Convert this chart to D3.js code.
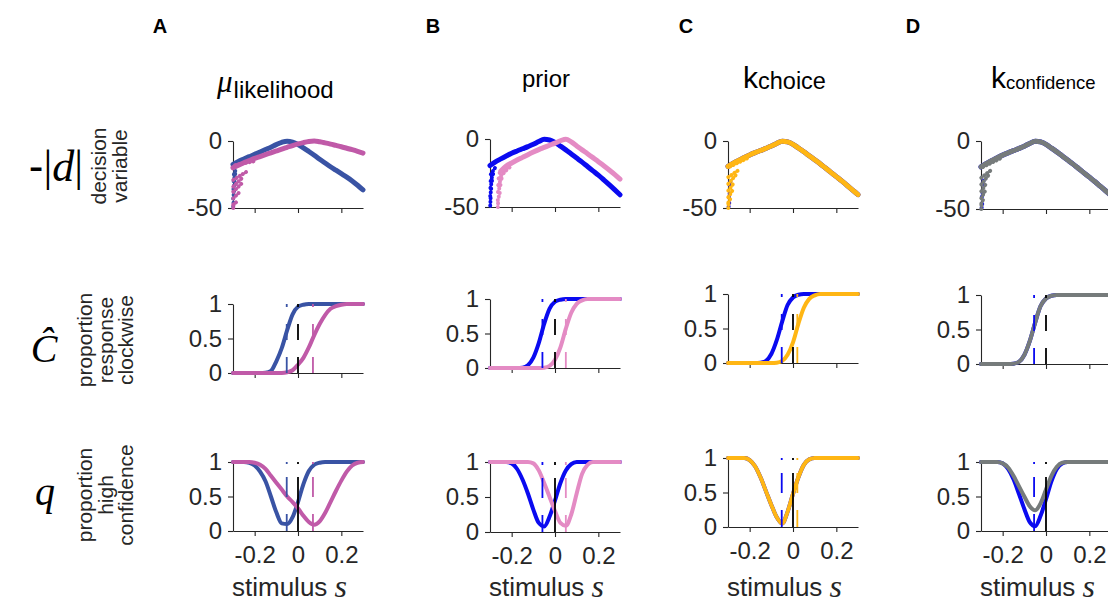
<!DOCTYPE html>
<html><head><meta charset="utf-8">
<script src="https://cdn.jsdelivr.net/npm/d3@7"></script>
<style>
body{margin:0;background:#fff;}
svg{display:block;}
</style></head><body>
<svg id="chart" width="1108" height="606"></svg>
<script>
// ---------------- DATA ----------------
const sGrid = [-0.3,-0.275,-0.25,-0.225,-0.2,-0.175,-0.15,-0.125,-0.1,-0.075,-0.05,-0.025,0,0.025,0.05,0.075,0.1,0.125,0.15,0.175,0.2,0.225,0.25,0.275,0.3];
const xTicks = [-0.2, 0, 0.2];
const xTickLabels = ["-0.2", "0", "0.2"];
const dvTicks = [-50, 0];
const dvTickLabels = ["-50", "0"];
const pTicks = [0, 0.5, 1];
const pTickLabels = ["0", "0.5", "1"];
const panelLetters = ["A", "B", "C", "D"];

// decision variable -|d|
const dvA_blue = [-17.5,-15.2,-13.4,-11.7,-10,-8.2,-6.4,-4.6,-2.7,-1,-0.1,-0.8,-2.6,-5.1,-7.8,-10.6,-13.6,-16.4,-19.2,-21.8,-24.4,-27,-29.8,-33,-36.5];
const dvA_pink = [-20,-18,-16.2,-14.6,-13,-11.6,-10.2,-8.8,-7.4,-6,-4.7,-3.4,-2.2,-1.2,-0.4,-0.05,-0.6,-1.4,-2.3,-3.3,-4.3,-5.4,-6.5,-7.7,-9];
const dvB_blue = [-19.5,-16.8,-14.6,-12.5,-10.5,-8.8,-7.2,-5.6,-3.9,-1.9,-0.2,-0.7,-2.5,-5.2,-8,-11,-14,-17,-20.2,-23.4,-26.6,-30,-33.5,-37.2,-41];
const dvB_pink = [null,null,-23.5,-19.8,-17.6,-15.5,-13.5,-11.5,-9.6,-7.8,-6.2,-4.6,-3,-1.3,-0.1,-2.2,-5.1,-8,-10.8,-13.7,-16.7,-19.7,-22.8,-26,-29.5];
const dvC_blue = [-19,-16.5,-14.4,-12.3,-10.4,-8.7,-7.1,-5.5,-3.8,-1.8,-0.1,-0.7,-2.5,-5.2,-8,-11,-14,-17,-20.2,-23.4,-26.6,-29.8,-33.2,-36.6,-40];
const dvC_orange = [-19,-16.5,-14.4,-12.3,-10.4,-8.7,-7.1,-5.5,-3.8,-1.8,-0.1,-0.7,-2.5,-5.2,-8,-11,-14,-17,-20.2,-23.4,-26.6,-29.8,-33.2,-36.6,-40];
const dvD_blue = [-19,-16.5,-14.4,-12.3,-10.4,-8.7,-7.1,-5.5,-3.8,-1.8,-0.1,-0.7,-2.5,-5.2,-8,-11,-14,-17,-20.2,-23.4,-26.6,-29.8,-33.2,-36.6,-40];
const dvD_gray = [-19,-16.5,-14.4,-12.3,-10.4,-8.7,-7.1,-5.5,-3.8,-1.8,-0.1,-0.7,-2.5,-5.2,-8,-11,-14,-17,-20.2,-23.4,-26.6,-29.8,-33.2,-36.6,-40];

// ragged low-end streaks of the decision variable: [s0, v0, s1, v1]
const streakA_blue = [[-0.299,-49,-0.297,-44],[-0.299,-43,-0.295,-37],[-0.298,-36,-0.292,-30],[-0.297,-30,-0.289,-24],[-0.296,-25,-0.284,-20]];
const streakA_pink = [[-0.2985,-50,-0.2975,-47],[-0.2985,-47.8,-0.275,-44],[-0.2985,-42.8,-0.268,-37.8],[-0.2985,-37.9,-0.26,-31.7],[-0.2985,-34,-0.252,-26.6],[-0.2985,-29,-0.237,-22.9],[-0.29,-18,-0.19,-14.7]];
const streakB_blue = [[-0.299,-49,-0.297,-43],[-0.299,-42,-0.294,-36],[-0.298,-36,-0.29,-30],[-0.297,-31,-0.284,-25],[-0.296,-26,-0.276,-21]];
const streakB_pink = [[-0.264,-50,-0.262,-45],[-0.264,-45,-0.254,-39],[-0.263,-39,-0.248,-32],[-0.262,-34,-0.24,-27],[-0.26,-29,-0.225,-23],[-0.255,-25,-0.2,-20]];
const streakC_blue = [[-0.297,-49,-0.294,-46],[-0.296,-42,-0.292,-39],[-0.292,-33,-0.288,-29]];
const streakC_orange = [[-0.2985,-50,-0.2975,-46],[-0.2985,-46,-0.285,-42],[-0.2985,-42,-0.28,-37],[-0.2985,-37,-0.272,-31],[-0.2985,-32,-0.262,-25],[-0.2985,-27,-0.245,-21],[-0.29,-19,-0.2,-12]];
const streakD_blue = [[-0.297,-49,-0.294,-46],[-0.296,-41,-0.292,-38],[-0.292,-32,-0.285,-27]];
const streakD_gray = [[-0.2985,-50,-0.2975,-46],[-0.2985,-46,-0.287,-42],[-0.2985,-42,-0.282,-37],[-0.2985,-37,-0.275,-31],[-0.2985,-32,-0.265,-25],[-0.2985,-27,-0.25,-21],[-0.29,-19,-0.2,-12]];

// proportion response clockwise
const pA_blue = [0,0,0,0,0,0,0.005,0.03,0.17,0.36,0.62,0.85,0.96,0.99,1,1,1,1,1,1,1,1,1,1,1];
const pA_pink = [0,0,0,0,0,0,0,0,0,0,0.01,0.04,0.12,0.22,0.37,0.55,0.71,0.84,0.93,0.97,0.99,1,1,1,1];
const pB_blue = [0,0,0,0,0,0,0.005,0.04,0.15,0.36,0.64,0.86,0.96,0.99,1,1,1,1,1,1,1,1,1,1,1];
const pB_pink = [0,0,0,0,0,0,0,0,0,0,0.005,0.03,0.12,0.3,0.57,0.8,0.93,0.98,1,1,1,1,1,1,1];
const pC_blue = [0,0,0,0,0,0,0.005,0.03,0.13,0.33,0.6,0.84,0.95,0.99,1,1,1,1,1,1,1,1,1,1,1];
const pC_orange = [0,0,0,0,0,0,0,0,0,0.005,0.03,0.12,0.3,0.57,0.8,0.93,0.98,1,1,1,1,1,1,1,1];
const pD_blue = [0,0,0,0,0,0,0.005,0.03,0.13,0.33,0.6,0.84,0.95,0.99,1,1,1,1,1,1,1,1,1,1,1];
const pD_gray = [0,0,0,0,0,0,0.005,0.03,0.13,0.33,0.6,0.84,0.95,0.99,1,1,1,1,1,1,1,1,1,1,1];

// proportion high confidence
const qA_blue = [1,1,1,0.99,0.95,0.86,0.72,0.5,0.27,0.11,0.1,0.2,0.42,0.68,0.87,0.96,0.99,1,1,1,1,1,1,1,1];
const qA_pink = [1,1,1,1,0.99,0.96,0.9,0.8,0.7,0.6,0.5,0.42,0.33,0.22,0.13,0.09,0.14,0.26,0.42,0.58,0.73,0.86,0.95,0.99,1];
const qB_blue = [1,1,1,1,0.98,0.9,0.75,0.55,0.32,0.13,0.08,0.22,0.45,0.7,0.88,0.97,1,1,1,1,1,1,1,1,1];
const qB_pink = [1,1,1,1,1,1,1,1,0.98,0.88,0.7,0.5,0.3,0.13,0.09,0.25,0.55,0.83,0.96,1,1,1,1,1,1];
const qC_blue = [1,1,1,1,0.97,0.88,0.72,0.52,0.32,0.14,0.05,0.22,0.48,0.72,0.9,0.98,1,1,1,1,1,1,1,1,1];
const qC_orange = [1,1,1,1,0.97,0.88,0.72,0.52,0.32,0.14,0.05,0.22,0.48,0.72,0.9,0.98,1,1,1,1,1,1,1,1,1];
const qD_blue = [1,1,1,1,0.98,0.9,0.75,0.54,0.32,0.13,0.07,0.22,0.46,0.72,0.9,0.98,1,1,1,1,1,1,1,1,1];
const qD_gray = [1,1,1,1,0.98,0.92,0.8,0.65,0.5,0.36,0.3,0.4,0.6,0.8,0.93,0.99,1,1,1,1,1,1,1,1,1];

// vertical marker positions (stimulus value of the 0.5 point / dip)
const markA = [-0.052, 0, 0.069];
const markB = [-0.058, 0, 0.05];
const markC = [-0.052, 0, 0.02];
const markD = [-0.055, 0];

// ---------------- STYLE / LAYOUT ----------------
const SANS = '"Liberation Sans", Arial, Helvetica, sans-serif';
const SERIF = '"Liberation Serif", "Times New Roman", "DejaVu Serif", serif';
const AX = "#262626";
const C = {
  blueA: "#3953a4", pinkA: "#c05aa8",
  blue: "#0a0af0", pinkB: "#e48bc4",
  orange: "#ffb614", gray: "#767b7b", black: "#000"
};
const cols = [
  {x0:233, x1:363, top:[141,208], mid:[304,373], bot:[462,531]},
  {x0:490, x1:620, top:[139,207], mid:[299,368], bot:[462,532]},
  {x0:728, x1:858, top:[141,208], mid:[294,363], bot:[458,527]},
  {x0:981, x1:1111, top:[141,209], mid:[295,364], bot:[462,531]}
];
const panels = [
  {top:[[dvA_blue,C.blueA],[dvA_pink,C.pinkA]], streaks:[[streakA_blue,C.blueA],[streakA_pink,C.pinkA]],
   mid:[[pA_blue,C.blueA],[pA_pink,C.pinkA]], bot:[[qA_blue,C.blueA],[qA_pink,C.pinkA]],
   marks:[[markA[0],C.blueA],[markA[1],C.black],[markA[2],C.pinkA]]},
  {top:[[dvB_blue,C.blue],[dvB_pink,C.pinkB]], streaks:[[streakB_blue,C.blue],[streakB_pink,C.pinkB]],
   mid:[[pB_blue,C.blue],[pB_pink,C.pinkB]], bot:[[qB_blue,C.blue],[qB_pink,C.pinkB]],
   marks:[[markB[0],C.blue],[markB[1],C.black],[markB[2],C.pinkB]]},
  {top:[[dvC_blue,C.blue],[dvC_orange,C.orange]], streaks:[[streakC_blue,C.blue],[streakC_orange,C.orange]],
   mid:[[pC_blue,C.blue],[pC_orange,C.orange]], bot:[[qC_blue,C.blue],[qC_orange,C.orange]],
   marks:[[markC[0],C.blue],[markC[1],C.black],[markC[2],C.orange]]},
  {top:[[dvD_blue,C.blue],[dvD_gray,C.gray]], streaks:[[streakD_blue,C.blue],[streakD_gray,C.gray]],
   mid:[[pD_blue,C.blue],[pD_gray,C.gray]], bot:[[qD_blue,C.blue],[qD_gray,C.gray]],
   marks:[[markD[0],C.blue],[markD[1],C.black]]}
];

const svg = d3.select("#chart");
svg.append("rect").attr("width",1108).attr("height",606).attr("fill","#fff");

function axes(g, x, y, yr, yTicksV, yLabels, showX) {
  const ax = d3.axisBottom(x).tickValues(xTicks).tickSize(5).tickSizeOuter(0).tickPadding(10)
    .tickFormat((d,i) => showX ? xTickLabels[i] : "");
  const gx = g.append("g").attr("transform", `translate(0,${yr[1]})`).call(ax);
  const ay = d3.axisLeft(y).tickValues(yTicksV).tickSize(5).tickSizeOuter(0).tickPadding(6)
    .tickFormat((d,i) => yLabels[i]);
  const gy = g.append("g").attr("transform", `translate(${x.range()[0]},0)`).call(ay);
  [gx, gy].forEach(a => {
    a.selectAll("path.domain").attr("stroke", AX).attr("stroke-width", 1.1);
    a.selectAll(".tick line").attr("stroke", AX).attr("stroke-width", 1.1);
    a.selectAll(".tick text").attr("fill", AX).attr("font-family", SANS).attr("font-size", 24);
  });
}

function curve(g, x, y, vals, color, w) {
  const line = d3.line().defined(v => v !== null).x((v,i) => x(sGrid[i])).y(v => y(v)).curve(d3.curveMonotoneX);
  g.append("path").attr("d", line(vals)).attr("fill","none").attr("stroke",color)
    .attr("stroke-width", w).attr("stroke-linecap","round").attr("stroke-linejoin","round");
}

cols.forEach((col, ci) => {
  const P = panels[ci];
  const x = d3.scaleLinear().domain([-0.3, 0.3]).range([col.x0, col.x1]);
  // top row
  {
    const g = svg.append("g");
    const y = d3.scaleLinear().domain([-50, 0]).range([col.top[1], col.top[0]]);
    axes(g, x, y, col.top, dvTicks, dvTickLabels, false);
    P.top.forEach((s, k) => {
      const st = P.streaks[k];
      st[0].forEach(d => {
        g.append("line").attr("x1", x(d[0])).attr("y1", y(d[1])).attr("x2", x(d[2])).attr("y2", y(d[3]))
          .attr("stroke", st[1]).attr("stroke-width", 4).attr("stroke-linecap","round")
          .attr("stroke-dasharray","0.1,3.6");
      });
      curve(g, x, y, s[0], s[1], 5);
    });
  }
  // middle row
  {
    const g = svg.append("g");
    const y = d3.scaleLinear().domain([0, 1]).range([col.mid[1], col.mid[0]]);
    axes(g, x, y, col.mid, pTicks, pTickLabels, false);
    P.mid.forEach(s => curve(g, x, y, s[0], s[1], 4));
    P.marks.forEach(m => {
      g.append("line").attr("x1", x(m[0])).attr("x2", x(m[0])).attr("y1", y(0)).attr("y2", y(1))
        .attr("stroke", m[1]).attr("stroke-width", 1.8).attr("stroke-dasharray","16,17");
    });
  }
  // bottom row
  {
    const g = svg.append("g");
    const y = d3.scaleLinear().domain([0, 1]).range([col.bot[1], col.bot[0]]);
    axes(g, x, y, col.bot, pTicks, pTickLabels, true);
    P.bot.forEach(s => curve(g, x, y, s[0], s[1], 4));
    P.marks.forEach(m => {
      g.append("line").attr("x1", x(m[0])).attr("x2", x(m[0])).attr("y1", y(0)).attr("y2", y(1))
        .attr("stroke", m[1]).attr("stroke-width", 1.8)
        .attr("stroke-dasharray", m[1] === C.black ? "54,13,3" : "17,17,20,13,3");
    });
    // x label
    const t = g.append("text").attr("x", col.x0 - 1).attr("y", 596).attr("font-family", SANS)
      .attr("font-size", 26).attr("fill", AX);
    t.append("tspan").text("stimulus ");
    t.append("tspan").attr("font-family", SERIF).attr("font-style","italic").attr("font-size", 32).attr("dy", 1).text("s");
  }
  // panel letter
  svg.append("text").attr("x", [160,433,686,913][ci]).attr("y", 33).attr("text-anchor","middle")
    .attr("font-family", SANS).attr("font-weight","bold").attr("font-size", 20).attr("fill","#000")
    .text(panelLetters[ci]);
});

// column titles
{
  const t = svg.append("text").attr("x", 217).attr("y", 92).attr("font-family", SANS).attr("font-size", 24).attr("fill","#000");
  t.append("tspan").attr("font-family", SERIF).attr("font-style","italic").attr("font-size", 31).text("μ");
  t.append("tspan").attr("dy", 6).attr("dx", 1).text("likelihood");
  svg.append("text").attr("x", 546).attr("y", 87).attr("text-anchor","middle").attr("font-family", SANS)
    .attr("font-size", 24).attr("fill","#000").text("prior");
  const k1 = svg.append("text").attr("x", 743).attr("y", 88).attr("font-family", SANS).attr("font-size", 30).attr("fill","#000");
  k1.append("tspan").text("k");
  k1.append("tspan").attr("font-size", 23.5).attr("dy", 1).text("choice");
  const k2 = svg.append("text").attr("x", 991).attr("y", 88).attr("font-family", SANS).attr("font-size", 30).attr("fill","#000");
  k2.append("tspan").text("k");
  k2.append("tspan").attr("font-size", 18.5).attr("dy", 1).text("confidence");
}

// row labels
{
  const t = svg.append("text").attr("x", 56).attr("y", 181).attr("text-anchor","middle")
    .attr("font-family", SERIF).attr("font-size", 44).attr("fill","#000");
  t.append("tspan").attr("font-family", SANS).text("-");
  t.append("tspan").text("|");
  t.append("tspan").attr("font-style","italic").text("d");
  t.append("tspan").text("|");
  svg.append("text").attr("x", 44).attr("y", 362).attr("text-anchor","middle").attr("font-family", SERIF)
    .attr("font-style","italic").attr("font-size", 40).attr("fill","#000").text("Ĉ");
  svg.append("text").attr("x", 45).attr("y", 505).attr("text-anchor","middle").attr("font-family", SERIF)
    .attr("font-style","italic").attr("font-size", 40).attr("fill","#000").text("q");

  function rotLabel(lines, xBase, cy) {
    const g = svg.append("g").attr("transform", `translate(${xBase},${cy}) rotate(-90)`);
    lines.forEach((l, i) => {
      g.append("text").attr("x", 0).attr("y", i * 20.5).attr("text-anchor","middle")
        .attr("font-family", SANS).attr("font-size", 21).attr("fill", AX).text(l);
    });
  }
  rotLabel(["decision", "variable"], 106, 166);
  rotLabel(["proportion", "response", "clockwise"], 92, 340);
  rotLabel(["proportion", "high", "confidence"], 92, 495);
}
</script>
</body></html>
